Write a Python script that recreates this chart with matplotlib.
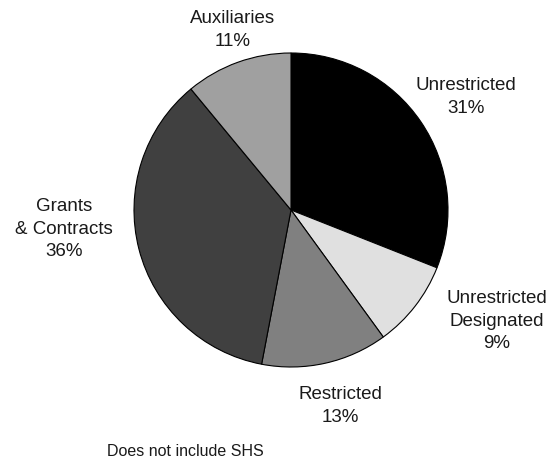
import matplotlib.pyplot as plt

labels = ["Unrestricted", "Unrestricted\nDesignated", "Restricted", "Grants\n& Contracts", "Auxiliaries"]
shares = [31, 9, 13, 36, 11]
colors = ["#000000", "#e0e0e0", "#808080", "#404040", "#a0a0a0"]

# label centres in pixels (x, y from top)
label_px = [(466, 97), (497, 321), (340, 406), (64, 229), (233, 30)]

W, H = 556, 463
fig = plt.figure(figsize=(W / 100, H / 100), dpi=100)

# pie: centre ~ (291, 210), radius ~157 px
cx, cy, r = 291, 210, 157
ax = fig.add_axes([(cx - r) / W, (H - cy - r) / H, 2 * r / W, 2 * r / H])
ax.pie(shares, colors=colors, startangle=90, counterclock=False,
       wedgeprops=dict(edgecolor="black", linewidth=0.8), radius=1)
ax.set_xlim(-1, 1)
ax.set_ylim(-1, 1)
ax.axis("off")

for lab, val, (x, y) in zip(labels, shares, label_px):
    fig.text(x / W, 1 - y / H, f"{lab}\n{val}%", ha="center", va="center",
             fontsize=13.5, family="Liberation Sans", color="#1a1a1a", linespacing=1.45)

fig.text(185 / W, 1 - 452 / H, "Does not include SHS", ha="center", va="center",
         fontsize=11.5, family="Liberation Sans", color="#1a1a1a")

fig.savefig("out.png", dpi=100)
